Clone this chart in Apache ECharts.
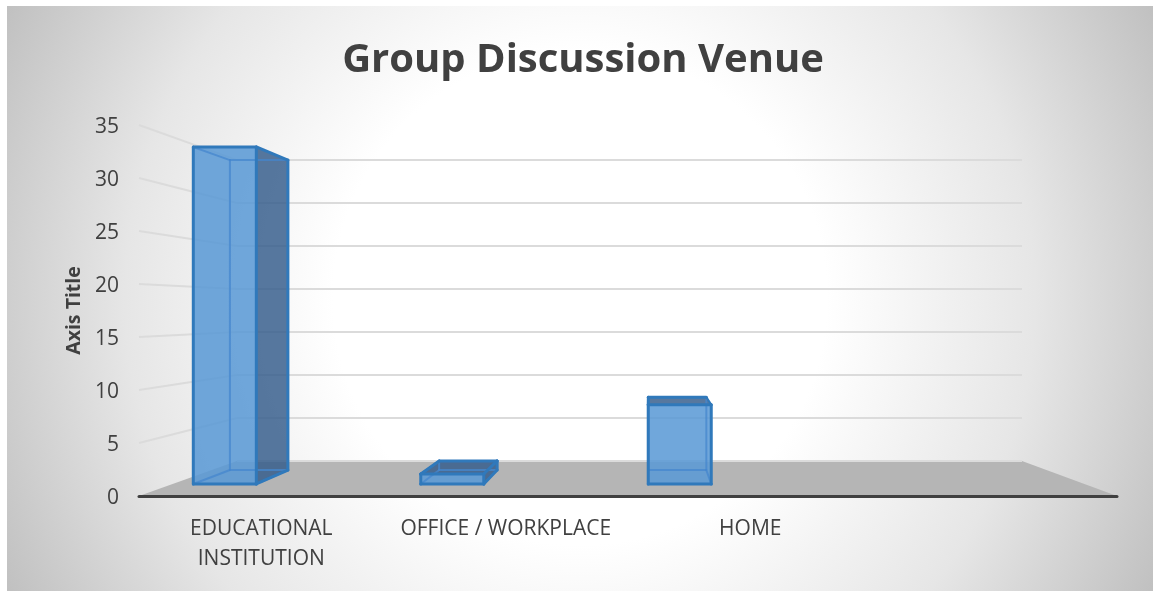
<!DOCTYPE html>
<html lang="en">
  <head>
    <meta charset="UTF-8" />
    <title>Group Discussion Venue</title>
    <script src="https://cdn.jsdelivr.net/npm/echarts/dist/echarts.min.js"></script>
    <style>
      html, body { margin: 0; padding: 0; background: #fff; }
      #main { width: 1153px; height: 591px; }
    </style>
  </head>
  <body>
    <div id="main"></div>
    <script>
      var categories = ["EDUCATIONAL\nINSTITUTION", "OFFICE / WORKPLACE", "HOME", ""];
      var venueValues = [34, 1, 8];
      var yTicks = [0, 5, 10, 15, 20, 25, 30, 35];

      var textColor = "#404040";
      var fontName = "'Open Sans', sans-serif";

      // fake perspective of the 3D chart
      var vanishX = 650, vanishY = 310.7;
      var wallScale = 0.811, backLeft = 237, backRight = 1022;
      var barFront = 0.935, barBack = 0.86;
      var barShift = -66, barSpread = 0.995, barHalf = 33.7;

      function project(x, y, s) {
        return [vanishX + (x - vanishX) * s, vanishY + (y - vanishY) * s];
      }

      function renderWall(params, api) {
        var v = api.value(0);
        var grid = params.coordSys;
        var y = api.coord([0, v])[1];
        var backY = vanishY + (y - vanishY) * wallScale;
        var line = { stroke: "#dbdbdb", lineWidth: 2, fill: null };
        var children = [];
        if (v === 0) {
          children.push({
            type: "polygon",
            shape: { points: [[grid.x, y], [grid.x + grid.width, y], [backRight, backY], [backLeft, backY]] },
            style: { fill: "#b5b5b5" },
          });
        } else {
          children.push({ type: "line", shape: { x1: grid.x, y1: y, x2: backLeft, y2: backY }, style: line });
        }
        children.push({ type: "line", shape: { x1: backLeft, y1: backY, x2: backRight, y2: backY }, style: line });
        return { type: "group", children: children };
      }

      function renderBar(params, api) {
        var first = api.coord([0, 0])[0];
        var base = api.coord([api.value(0), 0]);
        var top = api.coord([api.value(0), api.value(1)]);
        var cx = first + (base[0] - first) * barSpread + barShift;
        var x0 = cx - barHalf;
        var x1 = cx + barHalf;

        var fbl = project(x0, base[1], barFront), fbr = project(x1, base[1], barFront);
        var ftl = project(x0, top[1], barFront), ftr = project(x1, top[1], barFront);
        var bbl = project(x0, base[1], barBack), bbr = project(x1, base[1], barBack);
        var btl = project(x0, top[1], barBack), btr = project(x1, top[1], barBack);

        var dark = "rgba(50,90,138,0.82)";
        var edge = "#3079bb";
        var inner = "rgba(70,135,205,0.75)";
        var children = [];

        function edgeLine(a, b, color, w) {
          children.push({
            type: "line",
            shape: { x1: a[0], y1: a[1], x2: b[0], y2: b[1] },
            style: { stroke: color, lineWidth: w, lineCap: "round" },
          });
        }

        var topVisible = btl[1] < ftl[1];
        var rightVisible = fbr[0] < bbr[0];

        if (rightVisible) {
          children.push({ type: "polygon", shape: { points: [ftr, btr, bbr, fbr] }, style: { fill: dark } });
        }
        if (topVisible) {
          children.push({ type: "polygon", shape: { points: [ftl, ftr, btr, btl] }, style: { fill: dark } });
        }
        children.push({
          type: "polygon",
          shape: { points: [ftl, ftr, fbr, fbl] },
          style: { fill: "rgba(88,152,213,0.86)" },
        });

        // edges seen through the front face
        edgeLine(btl, bbl, inner, 2);
        edgeLine(bbl, bbr, inner, 2);
        edgeLine(btl, btr, inner, 2);
        edgeLine(btr, bbr, inner, 2);
        edgeLine(ftl, btl, inner, 2);
        edgeLine(fbl, bbl, inner, 2);
        edgeLine(fbr, bbr, inner, 2);

        // outer edges
        edgeLine(ftl, ftr, edge, 3);
        edgeLine(ftr, fbr, edge, 3);
        edgeLine(fbr, fbl, edge, 3);
        edgeLine(fbl, ftl, edge, 3);
        if (rightVisible) {
          edgeLine(ftr, btr, edge, 3);
          edgeLine(btr, bbr, edge, 3);
          edgeLine(bbr, fbr, edge, 3);
        } else {
          edgeLine(ftr, btr, edge, 2);
        }
        if (topVisible) {
          edgeLine(ftl, btl, edge, 3);
          edgeLine(btl, btr, edge, 3);
        }
        return { type: "group", children: children };
      }

      var chart = echarts.init(document.getElementById("main"));

      chart.setOption({
        animation: false,
        backgroundColor: "#ffffff",
        graphic: {
          elements: [
            {
              type: "rect",
              z: -10,
              silent: true,
              shape: { x: 7, y: 6, width: 1146, height: 585 },
              style: {
                fill: new echarts.graphic.RadialGradient(580, 298, 650, [
                  { offset: 0, color: "#ffffff" },
                  { offset: 0.38, color: "#ffffff" },
                  { offset: 0.7, color: "#e6e6e6" },
                  { offset: 1, color: "#bfbfbf" },
                ], true),
              },
            },
          ],
        },
        title: {
          text: "Group Discussion Venue",
          left: 578,
          top: 36,
          textAlign: "center",
          textStyle: { color: textColor, fontFamily: fontName, fontWeight: "bold", fontSize: 40 },
        },
        grid: { left: 139, right: 36, top: 125, bottom: 95 },
        xAxis: {
          type: "category",
          data: categories,
          z: 5,
          axisTick: { show: false },
          axisLine: { lineStyle: { color: "#404040", width: 3, cap: "round" } },
          axisLabel: {
            interval: 0,
            color: textColor,
            fontFamily: fontName,
            fontSize: 21,
            lineHeight: 30,
            margin: 18,
          },
        },
        yAxis: {
          type: "value",
          min: 0,
          max: 35,
          interval: 5,
          name: "Axis Title",
          nameLocation: "middle",
          nameGap: 55,
          nameTextStyle: { color: textColor, fontFamily: fontName, fontWeight: "bold", fontSize: 19.5 },
          axisLine: { show: false },
          axisTick: { show: false },
          splitLine: { show: false },
          axisLabel: {
            margin: 20,
            formatter: "{t|{value}}",
            rich: {
              t: { color: textColor, fontFamily: fontName, fontSize: 21, padding: [4, 0, 0, 0] },
            },
          },
        },
        series: [
          {
            type: "custom",
            silent: true,
            z: 1,
            renderItem: renderWall,
            data: yTicks.map(function (t) { return [t]; }),
            encode: { y: 0 },
          },
          {
            type: "custom",
            z: 3,
            renderItem: renderBar,
            data: venueValues.map(function (v, i) { return [i, v]; }),
            encode: { x: 0, y: 1 },
          },
        ],
      });
    </script>
  </body>
</html>
